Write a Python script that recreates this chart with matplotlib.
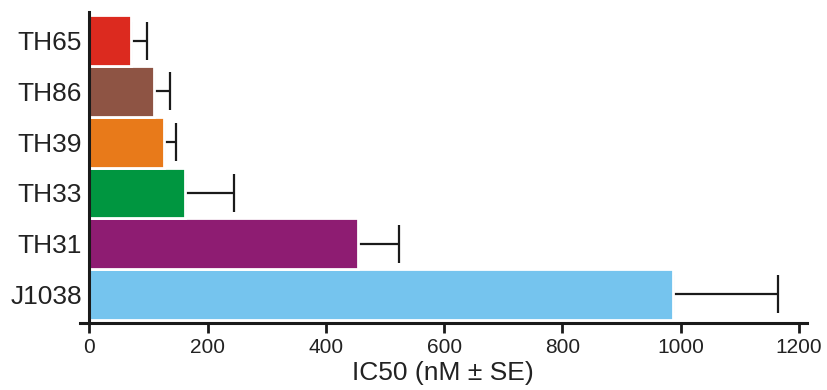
import matplotlib
matplotlib.use("Agg")
import matplotlib.pyplot as plt

plt.rcParams['font.family'] = ['Liberation Sans', 'DejaVu Sans']

compounds = ["J1038", "TH31", "TH33", "TH39", "TH86", "TH65"]
ic50 = [987, 454, 161, 126, 109, 70]
se = [178, 69, 84, 20, 27, 27]
colors = ["#75C4EE", "#8E1C72", "#009640", "#E87A1A", "#8E5444", "#DC2A1F"]
xticks = [0, 200, 400, 600, 800, 1000, 1200]

fig = plt.figure(figsize=(8.27, 3.9), dpi=100)
ax = fig.add_axes([80/827, (390-323)/390, (806.7-80)/827, (323-12)/390])

ypos = list(range(len(compounds)))
ax.errorbar(ic50, ypos, xerr=[[0]*len(se), se], fmt='none', ecolor='#1a1a1a',
            elinewidth=1.6, capsize=14, capthick=1.6, zorder=1)
ax.barh(ypos, ic50, height=1.0, color=colors, edgecolor='white', linewidth=2.0, zorder=2)

ax.set_xlim(-16, 1213)
ax.set_ylim(-0.566, 5.568)
ax.spines['left'].set_position(('data', 0))
ax.spines['top'].set_visible(False)
ax.spines['right'].set_visible(False)
for s in ('left', 'bottom'):
    ax.spines[s].set_linewidth(2.2)
    ax.spines[s].set_color('#1a1a1a')
    ax.spines[s].set_zorder(5)

ax.set_yticks(ypos)
ax.set_yticklabels(compounds, fontsize=19, color='#222222')
ax.tick_params(axis='y', length=0, pad=5.5)
ax.set_xticks(xticks)
ax.set_xticklabels([str(t) for t in xticks], fontsize=15, color='#222222')
ax.tick_params(axis='x', length=7, width=2, color='#1a1a1a', pad=4)
ax.set_xlabel("IC50 (nM ± SE)", fontsize=19, color='#222222', labelpad=3)

fig.savefig("out.png", dpi=100)
